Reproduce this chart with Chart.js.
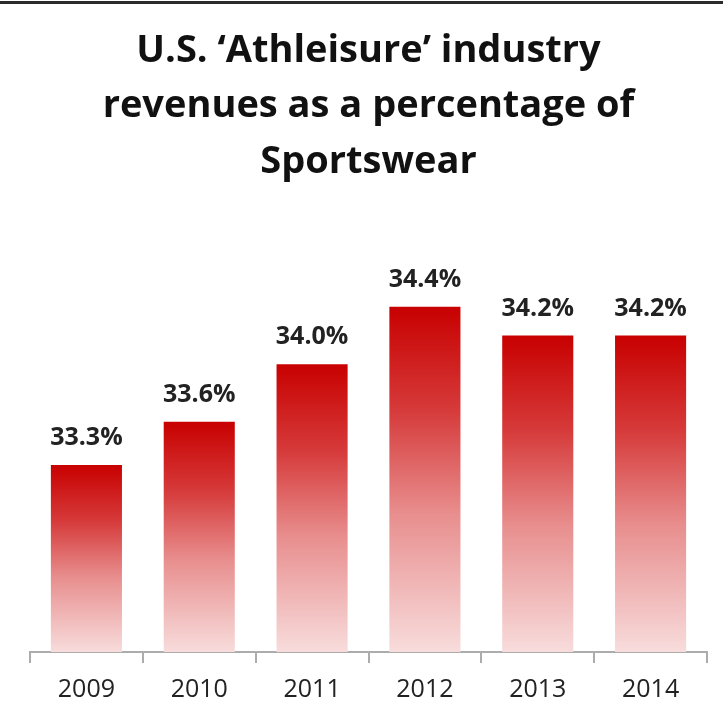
<!DOCTYPE html>
<html lang="en">
<head>
    <meta charset="UTF-8">
    <title>Athleisure share of sportswear</title>
    <script src="https://cdn.jsdelivr.net/npm/chart.js"></script>
    <style>
        body {
            margin: 0;
            background: #ffffff;
        }
        #wrap {
            position: relative;
            width: 723px;
            height: 706px;
        }
        #topRule {
            position: absolute;
            left: 0;
            top: 1px;
            width: 723px;
            height: 3px;
            background: #2b2b2b;
        }
        canvas {
            display: block;
        }
    </style>
</head>
<body>
    <div id="wrap">
        <canvas id="athleisureChart" width="723" height="706"></canvas>
        <div id="topRule"></div>
    </div>

    <script>
        const titleLines = ['U.S. \u2018Athleisure\u2019 industry', 'revenues as a percentage of', 'Sportswear'];
        const years = ['2009', '2010', '2011', '2012', '2013', '2014'];
        const shares = [33.3, 33.6, 34.0, 34.4, 34.2, 34.2];
        const yMin = 32;
        const yMax = 35;

        const FONT = '"Open Sans", Arial, sans-serif';

        // vertical red-to-pink fade, one per bar
        function barGradient(ctx) {
            const chart = ctx.chart;
            const area = chart.chartArea;
            if (!area || ctx.type !== 'data') return '#c90000';
            const top = chart.scales.y.getPixelForValue(ctx.raw);
            const g = chart.ctx.createLinearGradient(0, top, 0, area.bottom);
            g.addColorStop(0, '#c80000');
            g.addColorStop(0.3, '#d63a3a');
            g.addColorStop(0.6, '#e88e8e');
            g.addColorStop(1, '#f8dcdc');
            return g;
        }

        const valueLabels = {
            id: 'valueLabels',
            afterDatasetsDraw(chart) {
                const c = chart.ctx;
                const meta = chart.getDatasetMeta(0);
                c.save();
                c.font = 'bold 25px ' + FONT;
                c.fillStyle = '#222222';
                c.textAlign = 'center';
                c.textBaseline = 'middle';
                meta.data.forEach((bar, i) => {
                    c.fillText(shares[i].toFixed(1) + '%', bar.x, bar.y - 27);
                });
                c.restore();
            }
        };

        new Chart(document.getElementById('athleisureChart'), {
            type: 'bar',
            data: {
                labels: years,
                datasets: [{
                    data: shares,
                    backgroundColor: barGradient,
                    borderWidth: 0,
                    barPercentage: 0.63,
                    categoryPercentage: 1
                }]
            },
            options: {
                responsive: false,
                animation: false,
                layout: {
                    padding: { left: 30, right: 16, top: 0, bottom: -11 }
                },
                plugins: {
                    legend: { display: false },
                    tooltip: { enabled: false },
                    title: {
                        display: true,
                        text: titleLines,
                        color: '#111111',
                        font: { family: FONT, size: 38, weight: 'bold', lineHeight: 1.45 },
                        padding: { top: 24, bottom: 31 }
                    }
                },
                scales: {
                    x: {
                        offset: true,
                        border: { display: true, color: '#acacac', width: 2 },
                        grid: {
                            offset: true,
                            drawOnChartArea: false,
                            drawTicks: true,
                            tickLength: 11,
                            color: '#acacac',
                            lineWidth: 2
                        },
                        ticks: {
                            color: '#222222',
                            padding: 13,
                            font: { family: FONT, size: 25, lineHeight: 1.12 }
                        }
                    },
                    y: {
                        display: false,
                        min: yMin,
                        max: yMax
                    }
                }
            },
            plugins: [valueLabels]
        });
    </script>
</body>
</html>
